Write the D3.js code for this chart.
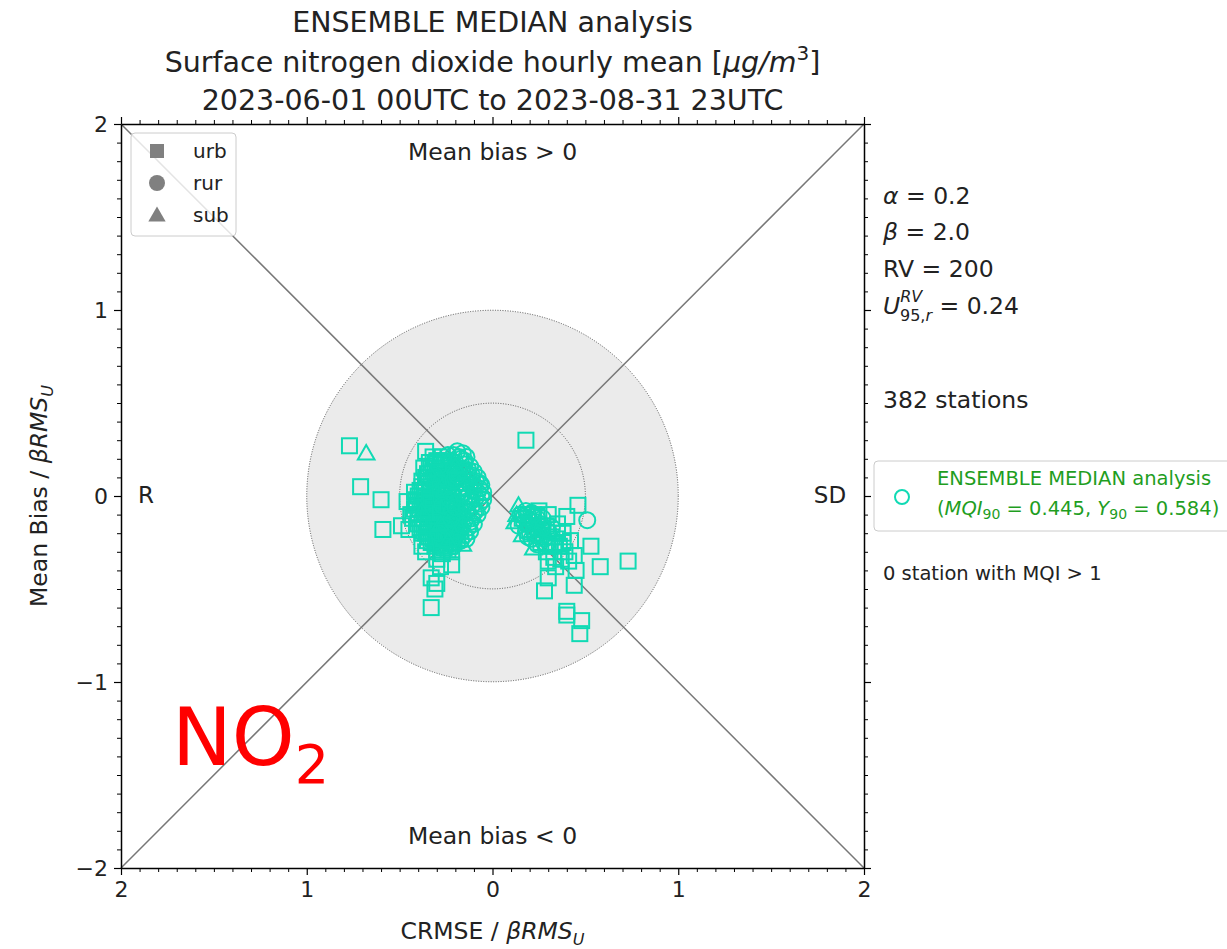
<!DOCTYPE html>
<html><head><meta charset="utf-8">
<script src="https://cdnjs.cloudflare.com/ajax/libs/d3/7.8.5/d3.min.js"></script>
<style>
body{margin:0;background:#fff;}
text{font-family:"DejaVu Sans",sans-serif;fill:#222;}
</style></head>
<body><svg id="c" width="1227" height="949"></svg>
<script>
// ---- data (x: signed CRMSE/βRMSU, negative = R side; y: Mean bias/βRMSU) ----
const urb = [
[-0.36,0.24],[-0.30,0.19],[-0.27,0.21],[-0.33,0.15],[-0.29,0.13],[-0.25,0.17],[-0.36,0.10],[-0.31,0.08],[-0.27,0.10],[-0.23,0.12],
[-0.38,0.05],[-0.34,0.03],[-0.30,0.05],[-0.26,0.06],[-0.22,0.07],[-0.40,0.00],[-0.36,-0.01],[-0.32,0.00],[-0.28,0.01],[-0.24,0.02],
[-0.41,-0.05],[-0.37,-0.05],[-0.33,-0.04],[-0.29,-0.06],[-0.25,-0.04],[-0.21,-0.05],[-0.40,-0.10],[-0.36,-0.09],[-0.32,-0.10],[-0.28,-0.11],
[-0.24,-0.09],[-0.20,-0.10],[-0.38,-0.15],[-0.34,-0.14],[-0.30,-0.16],[-0.26,-0.15],[-0.22,-0.14],[-0.18,-0.16],[-0.36,-0.20],[-0.32,-0.19],
[-0.28,-0.21],[-0.24,-0.20],[-0.20,-0.21],[-0.33,-0.25],[-0.29,-0.24],[-0.25,-0.26],[-0.21,-0.25],[-0.30,-0.29],[-0.26,-0.28],[-0.22,-0.30],
[-0.35,0.12],[-0.31,0.17],[-0.27,0.15],[-0.33,0.07],[-0.29,0.09],[-0.25,0.08],[-0.37,0.02],[-0.31,-0.02],[-0.27,-0.02],[-0.39,-0.07],
[-0.35,-0.07],[-0.31,-0.08],[-0.27,-0.07],[-0.23,-0.07],[-0.37,-0.12],[-0.33,-0.12],[-0.29,-0.13],[-0.25,-0.12],[-0.21,-0.12],[-0.35,-0.17],
[-0.31,-0.18],[-0.27,-0.18],[-0.23,-0.17],[-0.34,-0.22],[-0.30,-0.22],[-0.26,-0.23],[-0.22,-0.23],[-0.28,-0.27],[-0.24,-0.29],[-0.36,0.07],
[-0.39,0.03],[-0.41,-0.02],[-0.38,-0.03],[-0.34,-0.02],[-0.30,-0.03],[-0.26,0.03],[-0.22,0.04],[-0.20,0.09],[-0.24,0.14],[-0.28,0.18],
[-0.32,0.21],[-0.26,0.19],[-0.23,0.16],[-0.19,-0.07],[-0.18,-0.12],[-0.17,-0.19],[-0.19,-0.23],[-0.25,-0.10],[-0.29,-0.15],[-0.33,-0.17],
[-0.34,0.18],[-0.38,0.08],[-0.40,-0.12],[-0.42,-0.07],[-0.39,-0.17],[-0.35,-0.24],[-0.31,-0.27],[-0.27,-0.31],[-0.23,-0.27],[-0.20,-0.18],
[-0.22,-0.03],[-0.24,0.09],[-0.28,0.04],[-0.32,0.13],[-0.30,0.10],[-0.26,-0.13],[-0.30,-0.11],[-0.34,-0.09],[-0.32,-0.06],[-0.36,-0.04],
[-0.28,-0.09],[-0.24,-0.06],[-0.20,-0.14],[-0.26,-0.19],[-0.32,-0.23],[-0.38,-0.20],[-0.40,-0.15],[-0.43,-0.12],[-0.42,0.02],[-0.37,0.15],
[-0.77,0.27],[-0.71,0.05],[-0.60,-0.02],[-0.59,-0.18],[-0.49,-0.16],[-0.45,-0.18],[-0.38,-0.27],[-0.30,-0.34],[-0.22,-0.37],[-0.33,-0.44],
[-0.30,-0.47],[-0.31,-0.50],[-0.33,-0.60],[-0.44,-0.10],[-0.46,-0.03],[-0.36,-0.30],[-0.28,-0.38],
[0.18,0.30],[0.46,-0.05],[0.40,-0.11],[0.53,-0.27],[0.73,-0.35],[0.58,-0.38],[0.45,-0.40],[0.44,-0.48],[0.40,-0.62],[0.40,-0.64],
[0.48,-0.67],[0.47,-0.74],[0.30,-0.44],[0.28,-0.51],[0.25,-0.08],[0.30,-0.10],[0.35,-0.15],[0.38,-0.20],[0.36,-0.27],[0.42,-0.24],
[0.32,-0.22],[0.27,-0.18],[0.22,-0.14],[0.19,-0.10],[0.29,-0.30],[0.33,-0.33],[0.39,-0.30],[0.44,-0.32],[0.26,-0.25],[0.23,-0.20],
[0.34,-0.38],[0.41,-0.35],[0.37,-0.34],[0.31,-0.27],[0.20,-0.18],[0.16,-0.12],[0.24,-0.11],
[0.22,-0.10],[0.26,-0.21],[0.29,-0.16],[0.33,-0.26],[0.35,-0.20],[0.30,-0.35],[0.38,-0.25]
];
const rur = [
[-0.19,0.24],[-0.21,0.22],[-0.17,0.20],[-0.20,0.18],[-0.15,0.17],[-0.18,0.15],[-0.13,0.14],[-0.16,0.12],[-0.20,0.13],[-0.11,0.11],
[-0.14,0.09],[-0.18,0.10],[-0.09,0.08],[-0.12,0.06],[-0.16,0.07],[-0.20,0.05],[-0.07,0.04],[-0.10,0.03],[-0.14,0.04],[-0.18,0.02],
[-0.06,0.00],[-0.09,-0.01],[-0.13,0.00],[-0.17,-0.01],[-0.21,0.00],[-0.07,-0.04],[-0.11,-0.05],[-0.15,-0.04],[-0.19,-0.03],[-0.09,-0.08],
[-0.13,-0.09],[-0.17,-0.08],[-0.22,-0.08],[-0.11,-0.12],[-0.15,-0.13],[-0.19,-0.14],[-0.13,-0.17],[-0.17,-0.18],[-0.21,-0.18],[-0.15,-0.21],
[-0.19,-0.20],[-0.23,-0.21],[-0.17,-0.24],[-0.21,-0.27],[-0.25,-0.22],[-0.12,0.16],[-0.10,0.13],[-0.08,0.10],[-0.06,0.06],[-0.05,0.02],
[-0.05,-0.02],[-0.06,-0.06],[-0.08,-0.10],[-0.10,-0.15],[-0.12,-0.19],[-0.22,0.19],[-0.24,0.22],[-0.14,0.21],[-0.16,0.23],[-0.23,0.10],
[-0.21,0.15],[-0.25,0.05],[-0.23,-0.02],[-0.27,-0.05],[-0.25,-0.16],[-0.29,-0.20],[-0.31,0.11],[-0.34,0.09],[-0.28,0.07],
[-0.15,0.19],[-0.18,0.21],[-0.13,0.11],[-0.11,0.08],[-0.10,0.06],[-0.08,0.02],[-0.11,-0.02],[-0.14,-0.07],[-0.12,-0.14],[-0.16,-0.16],
[-0.14,-0.23],[-0.19,-0.25],[-0.22,-0.12],[-0.20,-0.06],[-0.16,0.01],[-0.15,0.14],[-0.17,0.05],[-0.21,0.08],[-0.12,-0.03],[-0.07,0.07],
[-0.10,-0.09],[-0.19,0.11],
[0.51,-0.13],[0.15,-0.10],[0.18,-0.08],[0.21,-0.09],[0.24,-0.12],[0.17,-0.14],[0.20,-0.13],[0.26,-0.15],[0.22,-0.17],[0.18,-0.19],
[0.25,-0.20],[0.28,-0.23],[0.21,-0.23],[0.24,-0.26],[0.30,-0.19],[0.14,-0.16],[0.27,-0.12],[0.32,-0.17],[0.19,-0.22],[0.29,-0.26],
[0.19,-0.15],[0.23,-0.21],[0.17,-0.11],[0.27,-0.17]
];
const sub = [
[-0.68,0.23],[-0.16,-0.26],[-0.35,0.14],[-0.28,-0.15],[-0.20,0.16],[-0.38,-0.08],[-0.24,-0.24],
[0.14,-0.05],[0.13,-0.10],[0.16,-0.21],[0.22,-0.28],[0.12,-0.14]
];
const majorTicks = [-2,-1,0,1,2];
const typeLabels = ["urb","rur","sub"];
const titleLines = ["ENSEMBLE MEDIAN analysis","Surface nitrogen dioxide hourly mean","2023-06-01 00UTC to 2023-08-31 23UTC"];
const nStations = 382, nMqiAbove1 = 0, MQI90 = 0.445, Y90 = 0.584;
const alphaV = 0.2, betaV = 2.0, RV = 200, U95 = 0.24;

const svg = d3.select("#c");
const x = d3.scaleLinear().domain([-2,2]).range([121,864]);
const y = d3.scaleLinear().domain([-2,2]).range([868,124]);
const col = "#10dab4";

// circles
const r1 = x(1)-x(0), r05 = x(0.5)-x(0);
svg.append("circle").attr("cx",x(0)).attr("cy",y(0)).attr("r",r1)
  .attr("fill","#ebebeb").attr("stroke","#555").attr("stroke-width",1).attr("stroke-dasharray","1,1.5");
svg.append("circle").attr("cx",x(0)).attr("cy",y(0)).attr("r",r05)
  .attr("fill","none").attr("stroke","#555").attr("stroke-width",1).attr("stroke-dasharray","1,1.5");
// diagonals
svg.append("line").attr("x1",x(-2)).attr("y1",y(2)).attr("x2",x(2)).attr("y2",y(-2)).attr("stroke","#777").attr("stroke-width",1.5);
svg.append("line").attr("x1",x(-2)).attr("y1",y(-2)).attr("x2",x(2)).attr("y2",y(2)).attr("stroke","#777").attr("stroke-width",1.5);

// points
const g = svg.append("g").attr("fill","none").attr("stroke",col).attr("stroke-width",2);
const s = 15;
g.selectAll("rect.u").data(urb).join("rect").attr("x",d=>x(d[0])-s/2).attr("y",d=>y(d[1])-s/2).attr("width",s).attr("height",s);
g.selectAll("circle.r").data(rur).join("circle").attr("cx",d=>x(d[0])).attr("cy",d=>y(d[1])).attr("r",8);
const tri = d3.symbol().type(d3.symbolTriangle).size(120);
g.selectAll("path.s").data(sub).join("path").attr("transform",d=>`translate(${x(d[0])},${y(d[1])+1.5})`).attr("d",tri());

// axes
const ax = [
  {a:d3.axisBottom(x), t:`translate(0,${y(-2)})`, lab:d=>String(Math.abs(d))},
  {a:d3.axisTop(x), t:`translate(0,${y(2)})`, lab:null},
  {a:d3.axisLeft(y), t:`translate(${x(-2)},0)`, lab:d=>d<0?"\u2212"+Math.abs(d):String(d)},
  {a:d3.axisRight(y), t:`translate(${x(2)},0)`, lab:null}
];
ax.forEach(o=>{
  const gMaj = svg.append("g").attr("transform",o.t)
    .call(o.a.tickValues(majorTicks).tickSizeInner(7).tickSizeOuter(0).tickPadding(6).tickFormat(o.lab||(()=> "")));
  gMaj.selectAll("text").attr("font-size",22).attr("font-family","DejaVu Sans").attr("fill","#222");
  gMaj.selectAll("line").attr("stroke","#000").attr("stroke-width",1.2);
  gMaj.select(".domain").attr("stroke","#000").attr("stroke-width",1.5);
});
// minor ticks
const minorVals = d3.range(-20,21).map(v=>v/10).filter(v=>Math.abs(v-Math.round(v))>1e-6);
[[d3.axisBottom(x),`translate(0,${y(-2)})`],[d3.axisTop(x),`translate(0,${y(2)})`],[d3.axisLeft(y),`translate(${x(-2)},0)`],[d3.axisRight(y),`translate(${x(2)},0)`]].forEach(([a,t])=>{
  const gm = svg.append("g").attr("transform",t).call(a.tickValues(minorVals).tickSizeInner(4).tickSizeOuter(0).tickFormat(()=> ""));
  gm.select(".domain").remove();
  gm.selectAll("line").attr("stroke","#000").attr("stroke-width",1);
});

// region labels
const t = (txt,xx,yy,size,anchor)=>svg.append("text").attr("x",xx).attr("y",yy).attr("font-size",size).attr("text-anchor",anchor||"start").text(txt);
t("Mean bias > 0", x(0), 160, 23.5, "middle");
t("Mean bias < 0", x(0), 844, 23.5, "middle");
t("R", 146, 503, 23, "middle");
t("SD", 830, 503, 23, "middle");

// title
t(titleLines[0], x(0), 32, 28.5, "middle");
const tl2 = svg.append("text").attr("x",x(0)).attr("y",72).attr("font-size",28.5).attr("text-anchor","middle");
tl2.append("tspan").text(titleLines[1]+" [");
tl2.append("tspan").attr("font-style","italic").text("\u03bcg/m");
tl2.append("tspan").attr("font-size",20).attr("dy",-12).text("3");
tl2.append("tspan").attr("dy",12).text("]");
t(titleLines[2], x(0), 110, 28.5, "middle");

// axis titles
const xl = svg.append("text").attr("x",x(0)).attr("y",939).attr("font-size",23.5).attr("text-anchor","middle");
xl.append("tspan").text("CRMSE / ");
xl.append("tspan").attr("font-style","italic").text("\u03b2RMS");
xl.append("tspan").attr("font-style","italic").attr("font-size",16).attr("dy",6).text("U");
const yl = svg.append("text").attr("transform",`translate(47,${y(0)}) rotate(-90)`).attr("font-size",23.5).attr("text-anchor","middle");
yl.append("tspan").text("Mean Bias / ");
yl.append("tspan").attr("font-style","italic").text("\u03b2RMS");
yl.append("tspan").attr("font-style","italic").attr("font-size",16).attr("dy",6).text("U");

// top-left legend
svg.append("rect").attr("x",131).attr("y",133).attr("width",105).attr("height",103).attr("rx",4)
  .attr("fill","#fff").attr("fill-opacity",0.8).attr("stroke","#ccc");
const legY = [151,183,215];
svg.append("rect").attr("x",157-7).attr("y",legY[0]-7).attr("width",14).attr("height",14).attr("fill","#808080");
svg.append("circle").attr("cx",157).attr("cy",legY[1]).attr("r",8).attr("fill","#808080");
svg.append("path").attr("transform",`translate(157,${legY[2]+1.5})`).attr("d",d3.symbol().type(d3.symbolTriangle).size(130)()).attr("fill","#808080");
typeLabels.forEach((l,i)=>t(l,193,legY[i]+7,20));

// right info text
const tx = 883;
const a1 = svg.append("text").attr("x",tx).attr("y",204).attr("font-size",23.5);
a1.append("tspan").attr("font-style","italic").text("\u03b1");
a1.append("tspan").text(" = "+alphaV);
const b1 = svg.append("text").attr("x",tx).attr("y",240).attr("font-size",23.5);
b1.append("tspan").attr("font-style","italic").text("\u03b2");
b1.append("tspan").text(" = "+betaV.toFixed(1));
t("RV = "+RV, tx, 277, 23.5);
const u1 = svg.append("text").attr("x",tx).attr("y",314).attr("font-size",23.5);
u1.append("tspan").attr("font-style","italic").text("U");
u1.append("tspan").attr("font-style","italic").attr("font-size",16).attr("dy",-12).text("RV");
u1.append("tspan").attr("font-size",16).attr("x",tx+17).attr("dy",19).text("95,");
u1.append("tspan").attr("font-size",16).attr("font-style","italic").text("r");
u1.append("tspan").attr("dy",-7).text(" = "+U95);
t(nStations+" stations", tx, 408, 23.5);
t(nMqiAbove1+" station with MQI > 1", tx, 580, 19.5);

// right legend
svg.append("rect").attr("x",874).attr("y",461).attr("width",360).attr("height",70).attr("rx",4)
  .attr("fill","#fff").attr("stroke","#ccc");
svg.append("circle").attr("cx",902).attr("cy",497).attr("r",7).attr("fill","none").attr("stroke",col).attr("stroke-width",2);
const gcol = "#1f9e1f";
t("ENSEMBLE MEDIAN analysis", 937, 485, 19.5).style("fill",gcol);
const l2 = svg.append("text").attr("x",937).attr("y",515).attr("font-size",19.5).style("fill",gcol);
l2.append("tspan").text("(");
l2.append("tspan").attr("font-style","italic").text("MQI");
l2.append("tspan").attr("font-size",14).attr("dy",4).text("90");
l2.append("tspan").attr("dy",-4).text(" = "+MQI90+", ");
l2.append("tspan").attr("font-style","italic").text("Y");
l2.append("tspan").attr("font-size",14).attr("dy",4).text("90");
l2.append("tspan").attr("dy",-4).text(" = "+Y90+")");

// NO2 annotation
const no = svg.append("text").attr("x",172).attr("y",765).attr("font-size",80).attr("font-family","Liberation Sans").style("fill","#ff0000");
no.append("tspan").text("NO");
no.append("tspan").attr("font-size",54).attr("dy",18).text("2");
</script></body></html>
